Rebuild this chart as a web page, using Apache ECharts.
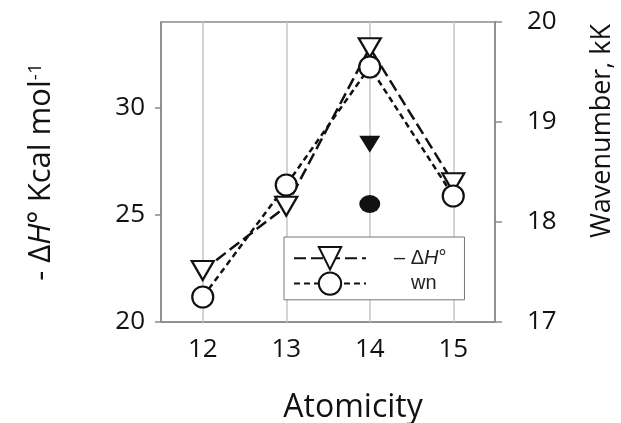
<!DOCTYPE html>
<html>
<head>
<meta charset="utf-8">
<script src="https://cdn.jsdelivr.net/npm/echarts@6/dist/echarts.min.js"></script>
<style>
  html, body { margin: 0; padding: 0; background: #fff; }
  #chart { width: 621px; height: 423px; }
</style>
</head>
<body>
<div id="chart"></div>
<script>
// atomicity on x, enthalpy on left axis, wavenumber on right axis
const atomicity = ['12', '13', '14', '15'];
const deltaH = [22.4, 25.4, 32.8, 26.5];
const wavenumber = [17.25, 18.37, 19.55, 18.26];
// the two filled points at atomicity 14
const deltaHFilled = [['14', 28.3]];
const wavenumberFilled = [['14', 18.18]];

const font = 'Open Sans';
const axisGray = '#8a8a8a';
const triangleDown = 'path://M0,0L20,0L10,17Z';

const chart = echarts.init(document.getElementById('chart'));

const option = {
  animation: false,
  grid: {
    left: 161,
    right: 126,
    top: 22,
    bottom: 101,
    outerBoundsMode: 'none',
    show: true,
    borderColor: axisGray,
    borderWidth: 1.5,
  },
  legend: {
    data: ['dh', 'wn'],
    orient: 'vertical',
    left: 284,
    top: 237,
    padding: [9, 18, 4, 9],
    itemWidth: 72,
    itemHeight: 28,
    itemGap: 1,
    backgroundColor: '#fff',
    borderColor: '#777',
    borderWidth: 1,
    formatter: name => {
      if (name === 'dh') {
        return '{p1| }{t|– Δ}{i|H}{t|°}';
      }
      return '{p2| }{t|wn}';
    },
    textStyle: {
      rich: {
        p1: { width: 23 },
        p2: { width: 40 },
        t: { fontFamily: 'Liberation Sans', fontSize: 20, color: '#222' },
        i: { fontFamily: 'Liberation Sans', fontSize: 20, fontStyle: 'italic', color: '#222' },
      },
    },
  },
  xAxis: {
    type: 'category',
    data: atomicity,
    boundaryGap: true,
    name: 'Atomicity',
    nameLocation: 'middle',
    nameGap: 70,
    nameTextStyle: { fontFamily: font, fontSize: 32, color: '#111', padding: [0, 0, 0, 50] },
    axisLine: { lineStyle: { color: axisGray, width: 1.5 } },
    axisTick: { alignWithLabel: true, length: 6, lineStyle: { color: axisGray, width: 1.5 } },
    axisLabel: { fontFamily: font, fontSize: 26, color: '#111', margin: 15 },
    splitLine: { show: false },
  },
  yAxis: [
    {
      type: 'value',
      min: 20,
      max: 34,
      interval: 5,
      position: 'left',
      name: '{n|- Δ}{i|H}{n|° Kcal mol}{s|-1}',
      nameLocation: 'middle',
      nameRotate: 90,
      nameGap: 104,
      nameTextStyle: {
        rich: {
          n: { fontFamily: font, fontSize: 31, color: '#111' },
          i: { fontFamily: font, fontSize: 31, fontStyle: 'italic', color: '#111' },
          s: { fontFamily: font, fontSize: 19, color: '#111', verticalAlign: 'top' },
        },
      },
      axisLine: { show: true, lineStyle: { color: axisGray, width: 1.5 } },
      axisTick: { show: true, length: 6, lineStyle: { color: axisGray, width: 1.5 } },
      axisLabel: { fontFamily: font, fontSize: 26, color: '#111', margin: 16, showMaxLabel: false },
      splitLine: { show: false },
    },
    {
      type: 'value',
      min: 17,
      max: 20,
      interval: 1,
      position: 'right',
      name: 'Wavenumber, kK',
      nameLocation: 'middle',
      nameRotate: 90,
      nameGap: 94,
      nameTextStyle: { fontFamily: font, fontSize: 27, color: '#111', padding: [0, 0, 0, 82] },
      axisLine: { show: true, lineStyle: { color: axisGray, width: 1.5 } },
      axisTick: { show: true, length: 7, lineStyle: { color: axisGray, width: 1.5 } },
      axisLabel: { fontFamily: font, fontSize: 26, color: '#111', margin: 32 },
      splitLine: { show: false },
    },
  ],
  series: [
    {
      // vertical grid lines at each atomicity
      name: 'grid',
      type: 'line',
      data: [],
      markLine: {
        silent: true,
        z: 1,
        symbol: ['none', 'none'],
        label: { show: false },
        lineStyle: { color: '#c6c6c6', width: 1.5, type: 'solid' },
        data: atomicity.map(a => ({ xAxis: a })),
      },
    },
    {
      name: 'dh',
      type: 'line',
      yAxisIndex: 0,
      data: deltaH,
      z: 3,
      symbol: triangleDown,
      symbolSize: [22, 19],
      lineStyle: { color: '#111', width: 2.5, type: [12, 5] },
      itemStyle: { color: '#fff', borderColor: '#111', borderWidth: 2.2 },
    },
    {
      name: 'wn',
      type: 'line',
      yAxisIndex: 1,
      data: wavenumber,
      z: 3,
      symbol: 'circle',
      symbolSize: 21,
      lineStyle: { color: '#111', width: 2.5, type: [6, 4] },
      itemStyle: { color: '#fff', borderColor: '#111', borderWidth: 2.2 },
    },
    {
      name: 'dhFilled',
      type: 'scatter',
      yAxisIndex: 0,
      data: deltaHFilled,
      z: 3,
      symbol: triangleDown,
      symbolSize: [21, 17],
      itemStyle: { color: '#111', opacity: 1 },
    },
    {
      name: 'wnFilled',
      type: 'scatter',
      yAxisIndex: 1,
      data: wavenumberFilled,
      z: 3,
      symbol: 'circle',
      symbolSize: [21, 18],
      itemStyle: { color: '#111', opacity: 1 },
    },
  ],
};

chart.setOption(option);
</script>
</body>
</html>
